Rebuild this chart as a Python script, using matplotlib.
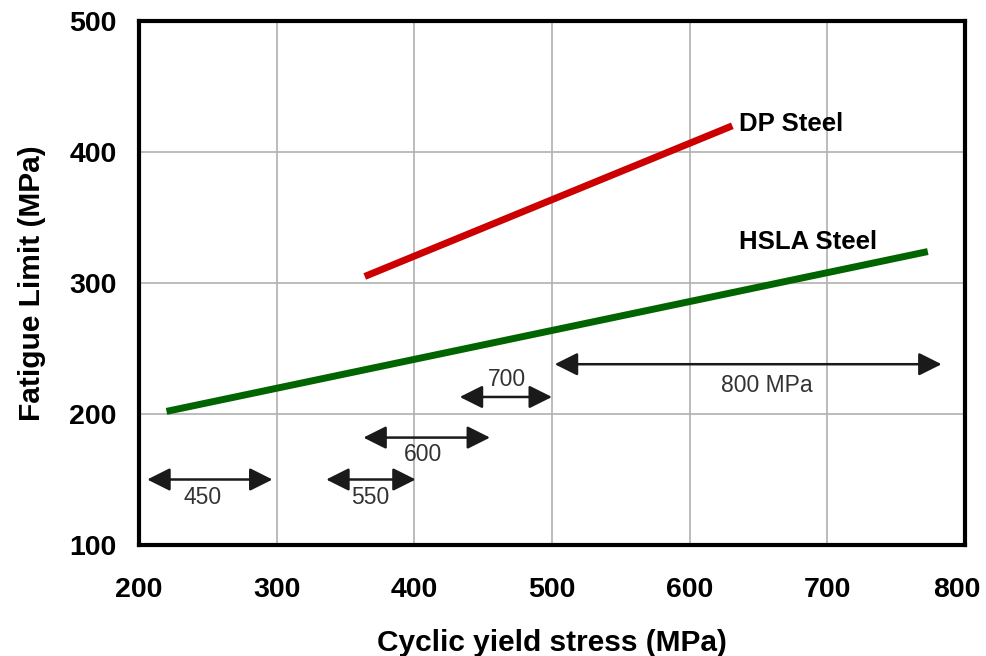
import matplotlib.pyplot as plt
import matplotlib.transforms as mtransforms

plt.rcParams['font.family'] = ['Liberation Sans', 'DejaVu Sans']

# lines (MPa)
dp_x = [364, 631]
dp_y = [305, 420]
hsla_x = [220, 773]
hsla_y = [202, 324]

# cyclic yield ranges for each tensile strength
range_labels = ['450', '550', '600', '700', '800 MPa']
range_start = [206, 336, 363, 433, 502]
range_end = [297, 401, 455, 500, 783]
range_level = [150, 150, 182, 213, 238]
label_x = [246, 368, 406, 467, 656]
label_y = [136, 136, 169, 226, 222]

x_ticks = [200, 300, 400, 500, 600, 700, 800]
y_ticks = [100, 200, 300, 400, 500]

fig = plt.figure(figsize=(9.87, 6.56), dpi=100)
ax = fig.add_axes([0.1408, 0.1692, 0.8369, 0.7988])

ax.plot(dp_x, dp_y, color='#cc0000', linewidth=5, solid_capstyle='butt', zorder=3)
ax.plot(hsla_x, hsla_y, color='#006400', linewidth=5, solid_capstyle='butt', zorder=3)
ax.text(636, 421, 'DP Steel', fontsize=18.5, fontweight='bold', va='center', ha='left')
ax.text(636, 331, 'HSLA Steel', fontsize=18.5, fontweight='bold', va='center', ha='left')

for i in range(len(range_labels)):
    ax.annotate('', xy=(range_end[i], range_level[i]), xytext=(range_start[i], range_level[i]),
                arrowprops=dict(arrowstyle='<|-|>,head_length=0.7,head_width=0.35',
                                color='#1a1a1a', lw=1.8, shrinkA=0, shrinkB=0,
                                mutation_scale=20))
    ax.text(label_x[i], label_y[i], range_labels[i], fontsize=16.5, color='#333333',
            ha='center', va='center')

ax.set_xlim(200, 800)
ax.set_ylim(100, 500)
ax.set_xticks(x_ticks)
ax.set_yticks(y_ticks)
ax.tick_params(length=0, labelsize=20.5)
ax.tick_params(axis='x', pad=23)
ax.tick_params(axis='y', pad=16)
for lab in ax.get_xticklabels() + ax.get_yticklabels():
    lab.set_fontweight('bold')
# last x label sits a little left so it is not cut by the edge
last = ax.get_xticklabels()[-1]
last.set_transform(last.get_transform() + mtransforms.ScaledTranslation(-6 / 72, 0, fig.dpi_scale_trans))
ax.grid(True, color='#b0b0b0', linewidth=1.2)
for s in ax.spines.values():
    s.set_linewidth(3)
    s.set_color('black')

ax.set_xlabel('Cyclic yield stress (MPa)', fontsize=21.5, fontweight='bold', labelpad=19)
ax.set_ylabel('Fatigue Limit (MPa)', fontsize=21.5, fontweight='bold', labelpad=17)

plt.savefig('out.png', dpi=100)
plt.close()
